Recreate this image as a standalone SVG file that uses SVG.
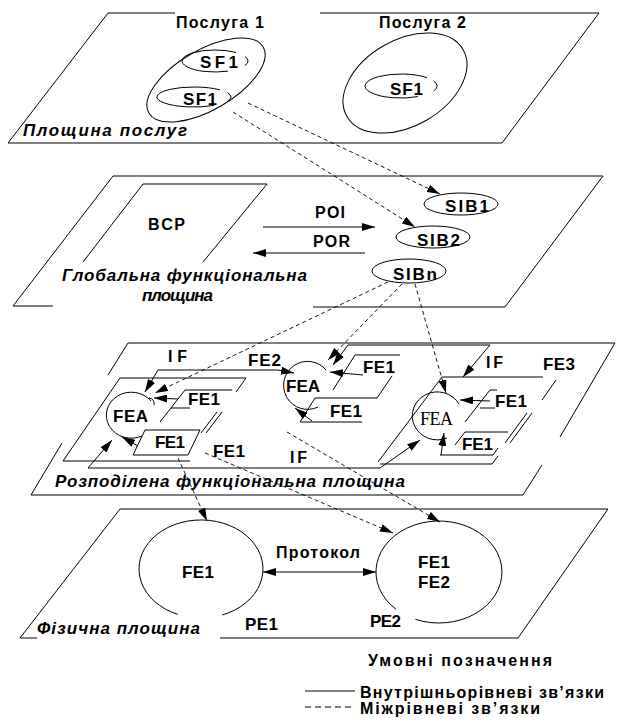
<svg xmlns="http://www.w3.org/2000/svg" width="617" height="725" viewBox="0 0 617 725">
<defs>
<style>
.ln{fill:none;stroke:#000;stroke-width:1}
.ds{fill:none;stroke:#000;stroke-width:0.9;stroke-dasharray:4 3}
.t{font-family:"Liberation Sans",Arial,sans-serif;font-weight:bold;font-size:16px;fill:#000}
.s16{font-size:17px}
.it{font-style:italic;font-size:17px}
.sr{font-family:"Liberation Serif","Times New Roman",serif;font-weight:normal;font-size:18px}
.arr{marker-end:url(#ah)}
.arr2{marker-start:url(#ah);marker-end:url(#ah)}
.bg{fill:#fff;stroke:none}
</style>
<marker id="ah" viewBox="0 0 13 8" refX="13" refY="4" markerWidth="13" markerHeight="8" markerUnits="userSpaceOnUse" orient="auto-start-reverse"><path d="M0,0 L13,4 L0,8 z" fill="#000"/></marker>
</defs>
<rect width="617" height="725" fill="#fff"/>

<!-- Service plane -->
<g id="plane-services">
<path class="ln" d="M175,13 H108 L8,143 H502 L599,13 H320"/>
<text class="t it" x="23" y="136" textLength="164" lengthAdjust="spacing">Площина послуг</text>
</g>
<g id="service1">
<ellipse class="ln" cx="206" cy="80" rx="66" ry="30" transform="rotate(-30 206 80)"/>
<text class="t" x="176" y="28" textLength="88" lengthAdjust="spacing">Послуга 1</text>
</g>
<g id="sf1-a">
<path class="ln" d="M236,52.5 A33,11 0 1 0 228,71.1 M244.9,56.4 A33,11 0 0 1 244.9,65.6"/>
<text class="t s16" x="200" y="68" textLength="38" lengthAdjust="spacing">SF1</text>
</g>
<g id="sf1-b">
<path class="ln" d="M220,89.9 A37,10 0 1 0 214,105.4 M227.5,92.8 A37,10 0 0 1 227.5,101.2"/>
<text class="t s16" x="183" y="105" textLength="34" lengthAdjust="spacing">SF1</text>
</g>
<g id="service2">
<ellipse class="ln" cx="405" cy="83" rx="67" ry="43" transform="rotate(-30 405 83)"/>
<text class="t" x="379" y="28" textLength="87" lengthAdjust="spacing">Послуга 2</text>
</g>
<g id="sf1-c">
<path class="ln" d="M427,77.7 A36,12 0 1 0 418,96.6 M433.6,80.9 A36,12 0 0 1 433.6,91.1"/>
<text class="t s16" x="390" y="95" textLength="33" lengthAdjust="spacing">SF1</text>
</g>

<!-- Global functional plane -->
<g id="plane-global">
<path class="ln" d="M53,306 H13 L113,176 H603 L505,307 H313"/>
<text class="t it" x="62" y="281" textLength="245" lengthAdjust="spacing">Глобальна функціональна</text>
<text class="t it" x="142" y="301" textLength="71" lengthAdjust="spacing">площина</text>
</g>
<g id="bcp">
<path class="ln" d="M83,262 L143,184 H267 L203,262"/>
<text class="t" x="148" y="230" textLength="37" lengthAdjust="spacing">BCP</text>
</g>
<g id="sib1">
<ellipse class="ln" cx="461" cy="204" rx="37" ry="11"/>
<text class="t s16" x="445" y="212" textLength="44" lengthAdjust="spacing">SIB1</text>
</g>
<g id="sib2">
<ellipse class="ln" cx="433" cy="237" rx="37" ry="11"/>
<text class="t s16" x="417" y="246" textLength="43" lengthAdjust="spacing">SIB2</text>
</g>
<g id="sibn">
<ellipse class="ln" cx="409" cy="271" rx="37" ry="12"/>
<text class="t s16" x="393" y="280" textLength="44" lengthAdjust="spacing">SIBn</text>
</g>

<!-- Distributed functional plane -->
<g id="plane-distributed">
<path class="ln" d="M108,375 L128,343 H615 L560,437 M542,465 L523,495 H31 L62,443"/>
<rect class="bg" x="54" y="472" width="352" height="19"/>
<text class="t it" x="55" y="487" textLength="350" lengthAdjust="spacing">Розподілена функціональна площина</text>
</g>
<g id="fe-left">
<path class="ln" d="M246,378 H120 L63,461 H190 M246,378 L236,392 M222,412 L206,433 M217,412 L201,433"/>
<path class="ln" d="M232,390 H185 L160,422 M171,408 H190"/>
<path class="ln" d="M145,430 H200 L188,455 H133 Z"/>
<path class="ln" d="M151,401 A25,23 0 1 0 142,436 M149,398 q6,1 5,7"/>
<text class="t s16" x="113" y="422" textLength="35" lengthAdjust="spacing">FEA</text>
<text class="t s16" x="188" y="405" textLength="32" lengthAdjust="spacing">FE1</text>
<text class="t s16" x="155" y="448" textLength="30" lengthAdjust="spacing">FE1</text>
</g>
<g id="fe-middle">
<path class="ln" d="M355,355 H400 M355,355 L333,390 M392,376 L377,398"/>
<path class="ln" d="M377,398 H315 L300,422 H362"/>
<path class="ln" d="M326,370 A24,24 0 1 0 318,407"/>
<text class="t s16" x="286" y="392" textLength="34" lengthAdjust="spacing">FEA</text>
<text class="t s16" x="363" y="373" textLength="32" lengthAdjust="spacing">FE1</text>
<text class="t s16" x="330" y="417" textLength="32" lengthAdjust="spacing">FE1</text>
</g>
<g id="fe-right">
<path class="ln" d="M543,377 H442 L378,462 M380,464 H492 L498,456 M556,380 L542,400 M532,413 L510,443 M527,413 L505,443"/>
<path class="ln" d="M490,390 H497 M490,390 L465,422 M480,408 H495"/>
<path class="ln" d="M465,432 H508 M465,432 L455,445 M440,455 H493 L498,448"/>
<path class="ln" d="M459,404 A25,24 0 1 0 447,438"/>
<text class="t sr" x="420" y="425" textLength="33" lengthAdjust="spacing">FEA</text>
<text class="t s16" x="495" y="407" textLength="32" lengthAdjust="spacing">FE1</text>
<text class="t s16" x="462" y="450" textLength="31" lengthAdjust="spacing">FE1</text>
</g>

<!-- Physical plane -->
<g id="plane-physical">
<path class="ln" d="M37,638 H20 L120,509 H608 L518,638 H220"/>
<text class="t it" x="37" y="634" textLength="163" lengthAdjust="spacing">Фізична площина</text>
</g>
<g id="pe1">
<path class="ln" d="M222.2,615 A62,49 0 1 0 177.8,614.4"/>
<text class="t s16" x="182" y="578" textLength="32" lengthAdjust="spacing">FE1</text>
<text class="t s16" x="245" y="630" textLength="33" lengthAdjust="spacing">PE1</text>
</g>
<g id="pe2">
<path class="ln" d="M415.4,619.3 A63,51 0 1 0 396,609.3"/>
<text class="t s16" x="418" y="568" textLength="32" lengthAdjust="spacing">FE1</text>
<text class="t s16" x="418" y="588" textLength="32" lengthAdjust="spacing">FE2</text>
<text class="t s16" x="370" y="627" textLength="31" lengthAdjust="spacing">PE2</text>
</g>

<!-- Connectors -->
<g id="connectors">
<path class="ds arr" d="M248,103 L440,194"/>
<path class="ds arr" d="M233,112 L415,227"/>
<path class="ln arr" d="M263,227 H375"/>
<path class="ln arr" d="M365,253 H253"/>
<path class="ds arr" d="M388,282 L155,393"/>
<path class="ds arr" d="M402,284 L328,360"/>
<path class="ds arr" d="M415,284 L446,393"/>
<path class="ln arr2" d="M145,392 L158,370 H278 L294,373"/>
<path class="ln arr2" d="M333,365 L348,345 H490 L463,377"/>
<path class="ln arr2" d="M112,440 L88,468 H380 L420,440"/>
<path class="ln arr" d="M178,399 L154,398"/>
<path class="ln arr" d="M138,446 L122,437"/>
<path class="ln arr" d="M363,375 L330,372"/>
<path class="ln arr" d="M312,421 L295,408"/>
<path class="ln arr" d="M490,401 L460,400"/>
<path class="ln arr" d="M441,455 L444,433"/>
<path class="ds arr" d="M178,458 L207,521"/>
<path class="ds arr" d="M205,453 L393,533"/>
<path class="ds arr" d="M287,432 L440,522"/>
<path class="ln arr2" d="M263,572 H376"/>
<text class="t" x="168" y="362" textLength="19" lengthAdjust="spacing">IF</text>
<text class="t s16" x="248" y="366" textLength="33" lengthAdjust="spacing">FE2</text>
<text class="t" x="486" y="368" textLength="17" lengthAdjust="spacing">IF</text>
<text class="t s16" x="543" y="370" textLength="32" lengthAdjust="spacing">FE3</text>
<text class="t s16" x="213" y="457" textLength="32" lengthAdjust="spacing">FE1</text>
<text class="t" x="290" y="463" textLength="17" lengthAdjust="spacing">IF</text>
<text class="t" x="315" y="218" textLength="30" lengthAdjust="spacing">POI</text>
<text class="t" x="313" y="247" textLength="37" lengthAdjust="spacing">POR</text>
<text class="t" x="276" y="558" textLength="84" lengthAdjust="spacing">Протокол</text>
</g>

<!-- Legend -->
<g id="legend">
<text class="t" x="368" y="666" textLength="184" lengthAdjust="spacing">Умовні позначення</text>
<path class="ln" d="M305,691 H355"/>
<text class="t" x="360" y="698" textLength="244" lengthAdjust="spacing">Внутрішньорівневі зв’язки</text>
<path class="ln" d="M305,707 H352" stroke-dasharray="6 4"/>
<text class="t" x="360" y="714" textLength="180" lengthAdjust="spacing">Міжрівневі зв’язки</text>
</g>
</svg>
